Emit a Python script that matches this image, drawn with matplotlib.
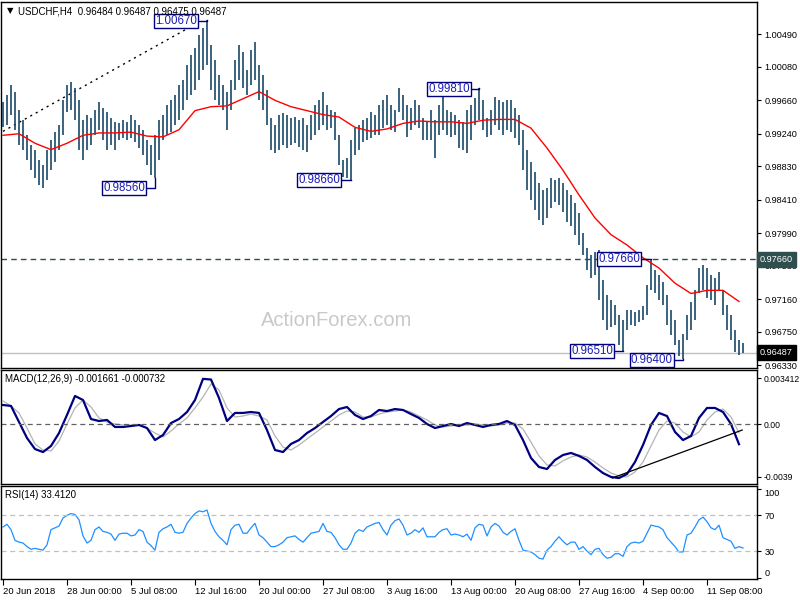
import numpy as np
import matplotlib
matplotlib.use("Agg")
import matplotlib.pyplot as plt
import matplotlib.transforms as mtransforms

plt.rcParams['font.family'] = ['Liberation Sans', 'DejaVu Sans']

#%% data (USDCHF H4)

highs = [0.9964, 0.9973, 0.9985, 0.9977, 0.9954, 0.9941, 0.9922, 0.9910, 0.9904, 0.9891,
         0.9885, 0.9904, 0.9916, 0.9926, 0.9935, 0.9966, 0.9985, 0.9989, 0.9982, 0.9966,
         0.9941, 0.9948, 0.9944, 0.9954, 0.9964, 0.9956, 0.9951, 0.9944, 0.9939, 0.9937,
         0.9941, 0.9939, 0.9948, 0.9941, 0.9935, 0.9929, 0.9916, 0.9910, 0.9922, 0.9941,
         0.9948, 0.9960, 0.9966, 0.9973, 0.9985, 0.9992, 1.0010, 1.0023, 1.0032, 1.0048,
         1.0057, 1.0067, 1.0036, 1.0017, 0.9998, 0.9985, 0.9977, 0.9992, 1.0017, 1.0036,
         1.0027, 1.0004, 1.0029, 1.0039, 1.0010, 0.9998, 0.9979, 0.9944, 0.9935, 0.9948,
         0.9950, 0.9948, 0.9944, 0.9945, 0.9941, 0.9944, 0.9935, 0.9948, 0.9960, 0.9966,
         0.9977, 0.9960, 0.9954, 0.9951, 0.9922, 0.9891, 0.9893, 0.9916, 0.9931, 0.9935,
         0.9941, 0.9944, 0.9951, 0.9948, 0.9960, 0.9966, 0.9973, 0.9960, 0.9954, 0.9982,
         0.9973, 0.9960, 0.9956, 0.9966, 0.9960, 0.9944, 0.9939, 0.9954, 0.9941, 0.9960,
         0.9975, 0.9954, 0.9951, 0.9948, 0.9941, 0.9939, 0.9954, 0.9960, 0.9969, 0.9981,
         0.9966, 0.9944, 0.9954, 0.9970, 0.9966, 0.9964, 0.9966, 0.9966, 0.9956, 0.9948,
         0.9929, 0.9904, 0.9888, 0.9876, 0.9862, 0.9853, 0.9856, 0.9868, 0.9866, 0.9868,
         0.9862, 0.9853, 0.9847, 0.9837, 0.9824, 0.9799, 0.9780, 0.9771, 0.9775, 0.9778,
         0.9740, 0.9721, 0.9715, 0.9709, 0.9696, 0.9690, 0.9702, 0.9702, 0.9700, 0.9702,
         0.9707, 0.9734, 0.9766, 0.9753, 0.9746, 0.9737, 0.9721, 0.9702, 0.9690, 0.9665,
         0.9672, 0.9696, 0.9712, 0.9727, 0.9755, 0.9759, 0.9755, 0.9746, 0.9742, 0.9750,
         0.9727, 0.9709, 0.9696, 0.9677, 0.9665, 0.9661]

lows = [0.9932, 0.9935, 0.9948, 0.9929, 0.9910, 0.9904, 0.9891, 0.9878, 0.9868, 0.9860,
        0.9856, 0.9866, 0.9878, 0.9888, 0.9904, 0.9922, 0.9951, 0.9954, 0.9941, 0.9904,
        0.9891, 0.9904, 0.9910, 0.9922, 0.9929, 0.9916, 0.9904, 0.9910, 0.9904, 0.9916,
        0.9919, 0.9916, 0.9919, 0.9914, 0.9906, 0.9897, 0.9885, 0.9872, 0.9868, 0.9891,
        0.9916, 0.9922, 0.9926, 0.9935, 0.9941, 0.9954, 0.9966, 0.9973, 0.9979, 0.9992,
        1.0004, 1.0010, 0.9979, 0.9966, 0.9960, 0.9954, 0.9929, 0.9954, 0.9979, 0.9992,
        0.9982, 0.9973, 0.9985, 0.9992, 0.9966, 0.9954, 0.9935, 0.9904, 0.9900, 0.9904,
        0.9910, 0.9906, 0.9910, 0.9912, 0.9907, 0.9904, 0.9901, 0.9916, 0.9922, 0.9929,
        0.9935, 0.9929, 0.9931, 0.9916, 0.9885, 0.9870, 0.9868, 0.9866, 0.9897, 0.9904,
        0.9914, 0.9916, 0.9919, 0.9922, 0.9922, 0.9931, 0.9935, 0.9929, 0.9926, 0.9951,
        0.9941, 0.9920, 0.9929, 0.9935, 0.9931, 0.9916, 0.9916, 0.9916, 0.9893, 0.9922,
        0.9929, 0.9922, 0.9920, 0.9922, 0.9906, 0.9904, 0.9900, 0.9916, 0.9935, 0.9941,
        0.9929, 0.9920, 0.9922, 0.9935, 0.9929, 0.9922, 0.9929, 0.9926, 0.9919, 0.9910,
        0.9878, 0.9853, 0.9841, 0.9828, 0.9815, 0.9809, 0.9818, 0.9831, 0.9838, 0.9834,
        0.9826, 0.9813, 0.9808, 0.9797, 0.9784, 0.9771, 0.9753, 0.9742, 0.9746, 0.9715,
        0.9690, 0.9677, 0.9681, 0.9683, 0.9658, 0.9651, 0.9677, 0.9683, 0.9682, 0.9687,
        0.9690, 0.9696, 0.9727, 0.9724, 0.9715, 0.9709, 0.9683, 0.9671, 0.9658, 0.9645,
        0.9640, 0.9665, 0.9677, 0.9690, 0.9724, 0.9727, 0.9717, 0.9715, 0.9709, 0.9727,
        0.9696, 0.9677, 0.9665, 0.9649, 0.9646, 0.9648]

# red moving average, one value every 4 bars
ma_step = 4
ma = [0.9922, 0.9924, 0.9912, 0.9904, 0.9912, 0.9922, 0.9925, 0.9925, 0.9926, 0.9921,
      0.9920, 0.9929, 0.9953, 0.9958, 0.9959, 0.9968, 0.9977, 0.9966, 0.9958, 0.9953,
      0.9948, 0.9945, 0.9932, 0.9927, 0.9930, 0.9937, 0.9940, 0.9939, 0.9939, 0.9937,
      0.9941, 0.9942, 0.9942, 0.9931, 0.9906, 0.9878, 0.9847, 0.9818, 0.9797, 0.9784,
      0.9768, 0.9755, 0.9736, 0.9723, 0.9727, 0.9727, 0.9713]

# MACD(12,26,9), one value every 2 bars
macd_step = 2
macd_main = [0.00141, 0.00134, 0.00015, -0.00104, -0.00186, -0.00208, -0.00163, -0.00067, 0.00067, 0.00208,
             0.00178, 0.00037, 0.00022, 0.00030, -0.00022, -0.00022, -0.00015, -0.00007, -0.00030, -0.00119,
             -0.00082, 0.00007, 0.00037, 0.00089, 0.00178, 0.00335, 0.00330, 0.00193, 0.00022, 0.00082,
             0.00082, 0.00089, 0.00082, -0.00045, -0.00193, -0.00208, -0.00148, -0.00119, -0.00067, -0.00030,
             0.00015, 0.00059, 0.00111, 0.00126, 0.00067, 0.00037, 0.00059, 0.00104, 0.00096, 0.00111,
             0.00104, 0.00074, 0.00045, 0.0, -0.00030, -0.00015, 0.0, -0.00015, 0.00007, -0.00007,
             -0.00022, -0.00007, 0.0, 0.00022, -0.00007, -0.00119, -0.00252, -0.00319, -0.00334, -0.00267,
             -0.00230, -0.00215, -0.00237, -0.00267, -0.00319, -0.00364, -0.00393, -0.00401, -0.00371, -0.00282,
             -0.00156, -0.00007, 0.00082, 0.00059, -0.00059, -0.00119, -0.00089, 0.00045, 0.00119, 0.00119,
             0.00089, 0.0, -0.00150]
macd_signal = [0.00171, 0.00134, 0.00082, -0.00030, -0.00148, -0.00193, -0.00200, -0.00126, 0.0, 0.00119,
               0.00178, 0.00126, 0.00045, 0.00015, 0.0, -0.00007, -0.00007, -0.00007, -0.00030, -0.00067,
               -0.00096, -0.00052, 0.0, 0.00045, 0.00119, 0.00200, 0.00297, 0.00252, 0.00119, 0.00052,
               0.00059, 0.00074, 0.00059, 0.00030, -0.00089, -0.00171, -0.00193, -0.00156, -0.00111, -0.00067,
               -0.00022, 0.00022, 0.00067, 0.00096, 0.00089, 0.00052, 0.00052, 0.00074, 0.00089, 0.00096,
               0.00104, 0.00089, 0.00059, 0.00030, -0.00007, -0.00022, -0.00015, -0.00007, -0.00007, 0.0,
               -0.00007, -0.00015, -0.00007, 0.00007, 0.00007, -0.00037, -0.00134, -0.00237, -0.00304, -0.00311,
               -0.00274, -0.00245, -0.00230, -0.00245, -0.00282, -0.00326, -0.00364, -0.00386, -0.00393, -0.00356,
               -0.00282, -0.00163, -0.00045, 0.00022, 0.00007, -0.00059, -0.00096, -0.00059, 0.00030, 0.00089,
               0.00111, 0.00052, -0.00065]

# RSI(14), one value per bar
rsi = [57, 60, 54, 42, 40, 39, 35, 32, 33, 32,
       31, 37, 54, 56, 58, 67, 70, 72, 71, 65,
       47, 39, 42, 54, 57, 52, 51, 49, 42, 49,
       50, 50, 47, 48, 54, 52, 40, 36, 31, 51,
       55, 57, 60, 51, 50, 51, 61, 67, 72, 75,
       74, 76, 61, 52, 46, 42, 37, 54, 59, 60,
       50, 50, 56, 61, 48, 45, 40, 35, 35, 37,
       40, 45, 46, 47, 43, 40, 45, 50, 51, 52,
       61, 52, 51, 45, 37, 32, 32, 39, 50, 54,
       52, 57, 59, 61, 62, 54, 48, 59, 64, 66,
       59, 48, 50, 54, 51, 56, 46, 46, 46, 51,
       54, 55, 48, 49, 48, 46, 49, 42, 56, 60,
       59, 47, 57, 61, 58, 51, 48, 52, 55, 42,
       31, 30, 29, 26, 22, 21, 31, 35, 41, 46,
       41, 37, 40, 40, 32, 35, 30, 26, 32, 33,
       26, 22, 23, 27, 27, 24, 35, 39, 40, 39,
       41, 50, 59, 58, 57, 54, 45, 40, 35, 29,
       29, 48, 50, 57, 65, 68, 63, 56, 54, 59,
       45, 43, 41, 33, 35, 33.4]

date_ticks = [0, 16, 32, 48, 64, 80, 96, 112, 128, 144, 160, 176]
date_labels = ["20 Jun 2018", "28 Jun 00:00", "5 Jul 08:00", "12 Jul 16:00",
               "20 Jul 00:00", "27 Jul 08:00", "3 Aug 16:00", "13 Aug 00:00",
               "20 Aug 08:00", "27 Aug 16:00", "4 Sep 00:00", "11 Sep 08:00"]

price_ticks = [1.00490, 1.00080, 0.99660, 0.99240, 0.98830, 0.98410,
               0.97990, 0.97580, 0.97160, 0.96750, 0.96330]

# swing labels: (text, label x in bars (right edge), label price, bar index, bar price)
swings = [("1.00670", 48.5, 1.0066, 51, 1.0067),
          ("0.98560", 35.5, 0.9856, 38, 0.9868),
          ("0.98660", 84.3, 0.9866, 87, 0.9866),
          ("0.99810", 116.8, 0.9980, 119, 0.9981),
          ("0.97660", 159.3, 0.9766, 162, 0.9766),
          ("0.96510", 152.5, 0.9651, 155, 0.9651),
          ("0.96400", 167.5, 0.9639, 170, 0.9640)]

level = 0.97660
last_price = 0.96487
trend_main_x = [0, 48.5]
trend_main_y = [0.9927, 1.0063]
trend_macd_x = [152.3, 184.8]
trend_macd_y = [-0.00401, -0.00045]

#%% plotting

BAR_COL = "#19496a"
NAVY = "#000080"
TICK_FS = 6.6
xlim = (-0.5, 188.5)

fig = plt.figure(figsize=(8, 6), dpi=100)
W, H = 800.0, 600.0
ax = fig.add_axes([1 / W, 1 - 368 / H, 756 / W, 366 / H])
ax_m = fig.add_axes([1 / W, 1 - 484 / H, 756 / W, 114 / H])
ax_r = fig.add_axes([1 / W, 1 - 579 / H, 756 / W, 93 / H])

for a in (ax, ax_m, ax_r):
    a.set_xlim(*xlim)
    a.yaxis.tick_right()
    a.tick_params(axis="y", direction="out", length=3, width=0.8, labelsize=TICK_FS, pad=2.5)
    for s in a.spines.values():
        s.set_linewidth(1.0)
        s.set_color("black")
ax.tick_params(axis="x", bottom=False, labelbottom=False)
ax_m.tick_params(axis="x", bottom=False, labelbottom=False)
ax_m.tick_params(axis="y", labelsize=6.2, pad=2)

# --- price pane
x = np.arange(len(highs))
ax.vlines(x, lows, highs, color=BAR_COL, lw=1.2, zorder=3)
ax.plot(np.arange(len(ma)) * ma_step, ma, color="red", lw=1.0, zorder=4)
ax.set_ylim(0.96293, 1.00897)
ax.set_yticks(price_ticks)
ax.set_yticklabels([f"{v:.5f}" for v in price_ticks])

ax.axhline(level, color="#2f4f4f", lw=1.0, ls=(0, (4, 3)), zorder=2)
ax.axhline(last_price, color="#c0c0c0", lw=1.0, zorder=2)
ax.plot(trend_main_x, trend_main_y, color="black", lw=1.0, ls=(0, (1.5, 3)), zorder=2)

yb = mtransforms.blended_transform_factory(ax.transAxes, ax.transData)
ax.text(1.004, level, f"{level:.5f}", transform=yb, ha="left", va="center",
        fontsize=TICK_FS, color="white", clip_on=False, zorder=10,
        bbox=dict(boxstyle="square,pad=0.3", fc="#2f4f4f", ec="#2f4f4f"))
ax.text(1.004, last_price, f"{last_price:.5f}", transform=yb, ha="left", va="center",
        fontsize=TICK_FS, color="white", clip_on=False, zorder=10,
        bbox=dict(boxstyle="square,pad=0.3", fc="black", ec="black"))

for txt, lx, lp, bx, bp in swings:
    ax.text(lx, lp, txt, ha="right", va="center", fontsize=8.3, color="#1c1cb4", zorder=6,
            bbox=dict(boxstyle="square,pad=0.1", fc="white", ec=NAVY, lw=1.0))
    ax.plot([lx + 0.3, bx, bx], [lp, lp, bp], color=NAVY, lw=1.0, zorder=5)

fig.text(337 / W, 1 - 320 / H, "ActionForex.com", fontsize=14.5, color="#c9c9c9",
         ha="center", va="center", zorder=0.5)
fig.text(7 / W, 1 - 11 / H, "\u25bc", fontsize=6, ha="left", va="center",
         family=["DejaVu Sans"])
fig.text(18 / W, 1 - 11 / H, "USDCHF,H4  0.96484 0.96487 0.96475 0.96487",
         fontsize=7, ha="left", va="center")

# --- MACD pane
xm = np.arange(len(macd_main)) * macd_step
ax_m.plot(np.arange(len(macd_signal)) * macd_step, macd_signal, color="#b4b4b4", lw=0.9)
ax_m.plot(xm, macd_main, color=NAVY, lw=1.6)
ax_m.axhline(0, color="#606060", lw=0.9, ls=(0, (4, 3)))
ax_m.plot(trend_macd_x, trend_macd_y, color="black", lw=0.9)
ax_m.set_ylim(-0.004452, 0.004007)
ax_m.set_yticks([0.003412, 0.0, -0.0039])
ax_m.set_yticklabels(["0.003412", "0.00", "-0.0039"])
fig.text(5 / W, 1 - 379 / H, "MACD(12,26,9) -0.001661 -0.000732", fontsize=7,
         ha="left", va="center")

# --- RSI pane
ax_r.plot(np.arange(len(rsi)), rsi, color="#1e90ff", lw=0.9)
for lv in (70, 30):
    ax_r.axhline(lv, color="#c0c0c0", lw=0.9, ls=(0, (4, 3)))
ax_r.set_ylim(-1.3, 102.9)
ax_r.set_yticks([100, 70, 30, 0])
ax_r.set_yticklabels(["100", "70", "30", "0"])
labs = ax_r.get_yticklabels()
labs[0].set_verticalalignment("top")
labs[3].set_verticalalignment("bottom")
fig.text(5 / W, 1 - 495 / H, "RSI(14) 33.4120", fontsize=7, ha="left", va="center")

ax_r.set_xticks(date_ticks)
ax_r.set_xticklabels(date_labels, fontsize=6.8)
ax_r.tick_params(axis="x", direction="out", length=4, width=0.8, pad=2)
for lab in ax_r.get_xticklabels():
    lab.set_horizontalalignment("left")

fig.savefig("out.png", dpi=100)
